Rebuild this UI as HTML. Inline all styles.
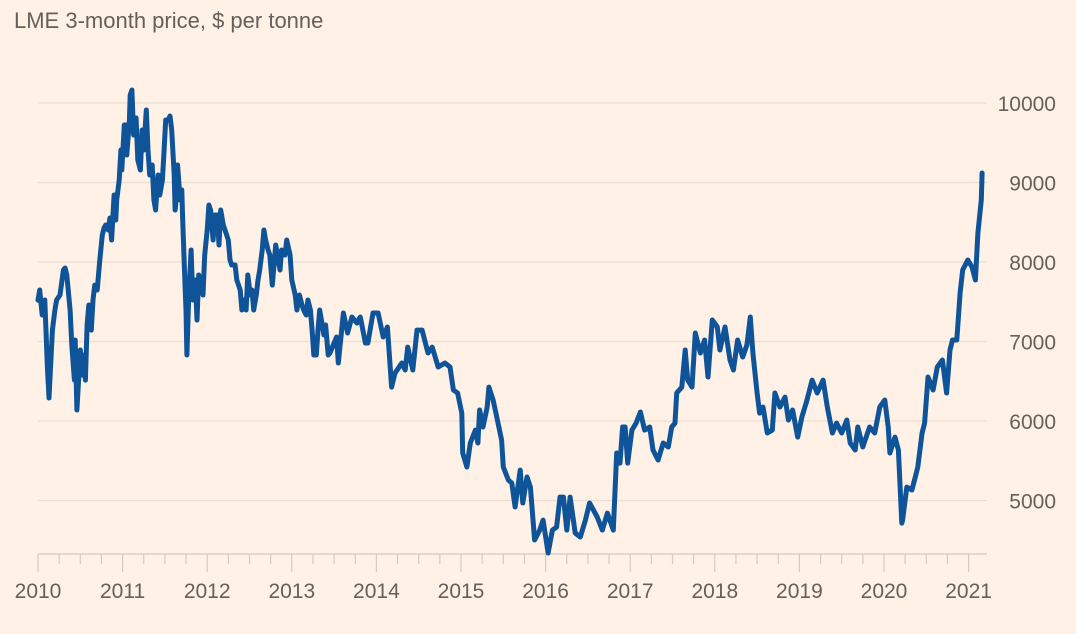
<!DOCTYPE html>
<html><head><meta charset="utf-8">
<style>
html,body{margin:0;padding:0;background:#fff1e5;}
svg{display:block;font-family:"Liberation Sans",sans-serif;}
</style></head>
<body>
<svg id="chart" width="1076" height="634" viewBox="0 0 1076 634">
<rect x="0" y="0" width="1076" height="634" fill="#fff1e5"/>
<text x="14" y="28" font-size="22" fill="#66605c">LME 3-month price, $ per tonne</text>
<g id="grid"></g>
<g id="yaxis"></g>
<g id="xaxis"></g>
<g id="series"></g>
</svg>
<script>
const dates=[2010.00,2010.02,2010.05,2010.08,2010.11,2010.13,2010.17,2010.20,2010.22,2010.26,2010.30,2010.32,2010.34,2010.38,2010.40,2010.43,2010.44,2010.46,2010.50,2010.52,2010.54,2010.56,2010.58,2010.60,2010.63,2010.65,2010.67,2010.70,2010.73,2010.76,2010.78,2010.80,2010.83,2010.85,2010.87,2010.90,2010.92,2010.93,2010.96,2010.98,2010.99,2011.02,2011.04,2011.05,2011.08,2011.09,2011.11,2011.13,2011.16,2011.18,2011.21,2011.23,2011.25,2011.28,2011.30,2011.32,2011.35,2011.37,2011.39,2011.42,2011.44,2011.47,2011.49,2011.51,2011.54,2011.56,2011.58,2011.61,2011.62,2011.64,2011.65,2011.68,2011.70,2011.71,2011.74,2011.75,2011.76,2011.78,2011.81,2011.83,2011.86,2011.88,2011.90,2011.93,2011.95,2011.97,2012.00,2012.02,2012.04,2012.07,2012.09,2012.12,2012.14,2012.16,2012.19,2012.21,2012.25,2012.27,2012.29,2012.33,2012.35,2012.39,2012.41,2012.43,2012.46,2012.48,2012.51,2012.53,2012.55,2012.58,2012.60,2012.62,2012.65,2012.67,2012.69,2012.72,2012.74,2012.77,2012.79,2012.81,2012.84,2012.86,2012.88,2012.92,2012.94,2012.98,2013.00,2013.04,2013.06,2013.09,2013.12,2013.14,2013.17,2013.19,2013.22,2013.24,2013.26,2013.29,2013.31,2013.33,2013.36,2013.38,2013.40,2013.43,2013.45,2013.53,2013.55,2013.61,2013.66,2013.71,2013.77,2013.81,2013.87,2013.90,2013.96,2014.02,2014.08,2014.13,2014.18,2014.22,2014.30,2014.34,2014.37,2014.43,2014.48,2014.54,2014.61,2014.66,2014.73,2014.81,2014.87,2014.91,2014.96,2015.01,2015.02,2015.07,2015.11,2015.17,2015.20,2015.22,2015.26,2015.31,2015.33,2015.38,2015.43,2015.48,2015.50,2015.56,2015.60,2015.64,2015.70,2015.73,2015.78,2015.82,2015.87,2015.93,2015.97,2016.03,2016.08,2016.13,2016.17,2016.21,2016.25,2016.29,2016.35,2016.41,2016.47,2016.52,2016.61,2016.67,2016.73,2016.80,2016.84,2016.88,2016.91,2016.94,2016.97,2017.02,2017.07,2017.12,2017.17,2017.23,2017.27,2017.33,2017.39,2017.45,2017.49,2017.53,2017.55,2017.61,2017.65,2017.68,2017.73,2017.77,2017.83,2017.88,2017.92,2017.97,2018.03,2018.06,2018.12,2018.18,2018.22,2018.27,2018.33,2018.38,2018.42,2018.45,2018.50,2018.53,2018.57,2018.62,2018.68,2018.71,2018.77,2018.83,2018.87,2018.92,2018.98,2019.03,2019.09,2019.15,2019.21,2019.28,2019.33,2019.39,2019.44,2019.50,2019.56,2019.60,2019.66,2019.69,2019.75,2019.83,2019.89,2019.95,2020.01,2020.05,2020.07,2020.13,2020.17,2020.21,2020.22,2020.27,2020.33,2020.37,2020.40,2020.45,2020.48,2020.52,2020.58,2020.63,2020.69,2020.74,2020.78,2020.81,2020.86,2020.90,2020.93,2020.99,2021.04,2021.08,2021.11,2021.15,2021.16];
const prices=[7520,7648,7333,7522,6704,6289,7144,7396,7522,7585,7899,7924,7836,7396,6956,6515,7019,6138,6893,6578,6830,6515,7207,7459,7144,7522,7710,7648,8025,8339,8428,8465,8402,8553,8277,8843,8528,8780,9031,9409,9157,9723,9723,9346,9786,10101,10164,9597,9811,9283,9157,9660,9409,9912,9409,9094,9220,8780,8654,9094,8843,9031,9409,9786,9786,9836,9660,9094,8654,8843,9220,8780,8906,8528,7648,7396,6830,7522,8151,7522,7773,7270,7836,7710,7585,8088,8402,8717,8654,8277,8591,8591,8214,8654,8465,8402,8277,8025,7962,7962,7773,7648,7396,7522,7396,7836,7585,7648,7396,7585,7773,7899,8151,8402,8277,8151,8088,7710,7962,8214,8025,7899,8151,8088,8277,8088,7773,7585,7396,7585,7459,7396,7333,7522,7396,7144,6830,6830,7144,7396,7207,7082,7207,6830,6855,7056,6729,7358,7107,7308,7232,7308,6981,6981,7358,7358,7056,7182,6427,6603,6729,6641,6930,6641,7144,7144,6855,6930,6679,6729,6679,6390,6352,6100,5597,5421,5723,5886,5723,6138,5924,6176,6427,6264,6012,5760,5421,5257,5220,4918,5383,4968,5295,5169,4503,4628,4754,4339,4628,4666,5043,5043,4628,5043,4591,4541,4754,4968,4792,4628,4842,4628,5597,5471,5924,5924,5471,5886,5974,6113,5886,5924,5635,5509,5723,5673,5924,5974,6352,6427,6893,6515,6427,7107,6855,7019,6553,7270,7182,6893,7182,6767,6641,7019,6805,6956,7308,6855,6352,6100,6176,5849,5886,6352,6176,6301,6012,6138,5798,6050,6264,6515,6352,6515,6176,5849,5974,5849,6012,5723,5635,5924,5673,5924,5849,6176,6264,5924,5597,5798,5635,4716,4754,5169,5132,5295,5421,5849,5974,6553,6390,6679,6767,6352,6893,7019,7019,7610,7899,8025,7937,7773,8365,8780,9119];
const yTicks=[5000,6000,7000,8000,9000,10000];
const xTickYears=[2010,2011,2012,2013,2014,2015,2016,2017,2018,2019,2020,2021];

const NS='http://www.w3.org/2000/svg';
const X0=38, PXY=84.6, Y10K=103, PXV=0.0795, AXY=554, GRIDR=987;
function xs(t){return X0+(t-2010)*PXY;}
function ys(v){return Y10K+(10000-v)*PXV;}
function mk(tag,attrs,parent){const e=document.createElementNS(NS,tag);for(const k in attrs)e.setAttribute(k,attrs[k]);parent.appendChild(e);return e;}

const grid=document.getElementById('grid'), yax=document.getElementById('yaxis'), xax=document.getElementById('xaxis'), ser=document.getElementById('series');
yTicks.forEach(v=>{
  const l=mk('line',{x1:X0,x2:GRIDR,y1:ys(v),y2:ys(v),stroke:'#ebdfd4','stroke-width':1.2},grid);
  
  
  const t=mk('text',{x:1056,y:ys(v)+8,'text-anchor':'end','font-size':21,fill:'#66605c'},yax);
  t.textContent=v;
  
  
});
const ax=mk('line',{x1:X0,x2:GRIDR,y1:AXY,y2:AXY,stroke:'#d4cac1','stroke-width':1.2},xax);


for(let q=0;q<=44;q++){
  const t=2010+q/4, major=q%4===0;
  const tk=mk('line',{x1:xs(t),x2:xs(t),y1:AXY,y2:AXY+(major?18:10),stroke:'#d4cac1','stroke-width':1.2},xax);
  
  
}
xTickYears.forEach(yr=>{
  const t=mk('text',{x:xs(yr),y:598,'text-anchor':'middle','font-size':21,fill:'#66605c'},xax);
  t.textContent=yr;
  
  
});
let d='';
dates.forEach((t,i)=>{d+=(i?'L':'M')+xs(t).toFixed(1)+' '+ys(prices[i]).toFixed(1);});
const p=mk('path',{d:d,fill:'none',stroke:'#0f5499','stroke-width':5,'stroke-linejoin':'round','stroke-linecap':'round'},ser);


</script>
</body></html>
